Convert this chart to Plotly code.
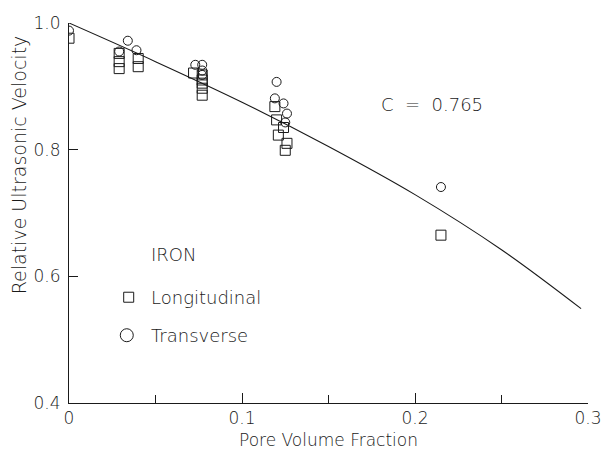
import plotly.graph_objects as go

# Longitudinal (squares)
long_x = [0.0, 0.029, 0.029, 0.029, 0.040, 0.040,
          0.072, 0.077, 0.077, 0.077, 0.077, 0.077,
          0.119, 0.120, 0.124, 0.121, 0.126, 0.125, 0.215]
long_y = [0.976, 0.952, 0.939, 0.928, 0.944, 0.931,
          0.921, 0.918, 0.910, 0.905, 0.897, 0.886,
          0.868, 0.847, 0.835, 0.823, 0.810, 0.799, 0.665]
# Transverse (circles)
trans_x = [0.0, 0.029, 0.034, 0.039,
           0.073, 0.077, 0.077, 0.077,
           0.120, 0.119, 0.124, 0.126, 0.125, 0.215]
trans_y = [0.988, 0.955, 0.972, 0.957,
           0.934, 0.934, 0.925, 0.918,
           0.907, 0.881, 0.873, 0.857, 0.843, 0.741]
# Model curve (C = 0.765)
curve_x = [0.0, 0.05, 0.10, 0.15, 0.20, 0.25, 0.296]
curve_y = [1.0, 0.939, 0.875, 0.805, 0.729, 0.642, 0.549]

x_ticks = [0, 0.1, 0.2, 0.3]
x_labels = ["0", "0.1", "0.2", "0.3"]
x_minor = [0.05, 0.15, 0.25]
y_ticks = [0.4, 0.6, 0.8, 1.0]
y_labels = ["0.4", "0.6", "0.8", "1.0"]

FONT = "DejaVu Sans"
INK = "#1a1a1a"
FS = 18
TICK_FS = 17

fig = go.Figure()
fig.add_trace(go.Scatter(x=curve_x, y=curve_y, mode="lines",
                         line=dict(color=INK, width=1.1, shape="spline"),
                         showlegend=False, hoverinfo="skip"))
fig.add_trace(go.Scatter(x=long_x, y=long_y, mode="markers",
                         marker=dict(symbol="square-open", size=10,
                                     color=INK, line=dict(width=1)),
                         showlegend=False))
fig.add_trace(go.Scatter(x=trans_x, y=trans_y, mode="markers",
                         marker=dict(symbol="circle-open", size=9,
                                     color=INK, line=dict(width=1)),
                         showlegend=False))
# legend symbols
fig.add_trace(go.Scatter(x=[0.0345], y=[0.567], mode="markers",
                         marker=dict(symbol="square-open", size=10, color=INK,
                                     line=dict(width=1)),
                         showlegend=False, hoverinfo="skip"))
fig.add_trace(go.Scatter(x=[0.0334], y=[0.507], mode="markers",
                         marker=dict(symbol="circle-open", size=13, color=INK,
                                     line=dict(width=1)),
                         showlegend=False, hoverinfo="skip"))

fig.update_layout(
    width=614, height=450,
    margin=dict(l=69, r=15, t=23, b=47),
    paper_bgcolor="white", plot_bgcolor="white",
    font=dict(family=FONT, size=FS, color=INK, weight=300),
    xaxis=dict(range=[0, 0.3], tickvals=x_ticks, ticktext=x_labels,
               ticks="inside", ticklen=10, tickcolor=INK, tickwidth=1,
               minor=dict(tickvals=x_minor, ticks="inside", ticklen=8,
                          tickcolor=INK, tickwidth=1),
               tickfont=dict(size=TICK_FS),
               showgrid=False, zeroline=False, showline=True,
               linecolor=INK, linewidth=1, ticklabelstandoff=0),
    yaxis=dict(range=[0.4, 1.0], tickvals=y_ticks, ticktext=y_labels,
               ticks="inside", ticklen=9, tickcolor=INK, tickwidth=1,
               tickfont=dict(size=TICK_FS),
               showgrid=False, zeroline=False, showline=True,
               linecolor=INK, linewidth=1, ticklabelstandoff=4),
)

fig.update_layout(annotations=[
    dict(x=-0.096, y=0.626, xref="paper", yref="paper",
         text="Relative Ultrasonic Velocity", textangle=-90,
         xanchor="center", yanchor="middle",
         showarrow=False, font=dict(size=19)),
    dict(x=0.5, y=-0.097, xref="paper", yref="paper",
         text="Pore Volume Fraction", xanchor="center", yanchor="middle",
         showarrow=False, font=dict(size=17)),
    dict(x=0.1789, y=0.871, xref="x", yref="y",
         text="C\u00a0\u00a0=\u00a0\u00a00.765", xanchor="left",
         showarrow=False, font=dict(size=FS)),
    dict(x=0.0464, y=0.634, xref="x", yref="y", text="IRON", xanchor="left",
         showarrow=False, font=dict(size=FS)),
    dict(x=0.0464, y=0.567, xref="x", yref="y", text="Longitudinal",
         xanchor="left", showarrow=False, font=dict(size=FS)),
    dict(x=0.0464, y=0.507, xref="x", yref="y", text="Transverse",
         xanchor="left", showarrow=False, font=dict(size=FS)),
])

fig.write_html("out.html")
